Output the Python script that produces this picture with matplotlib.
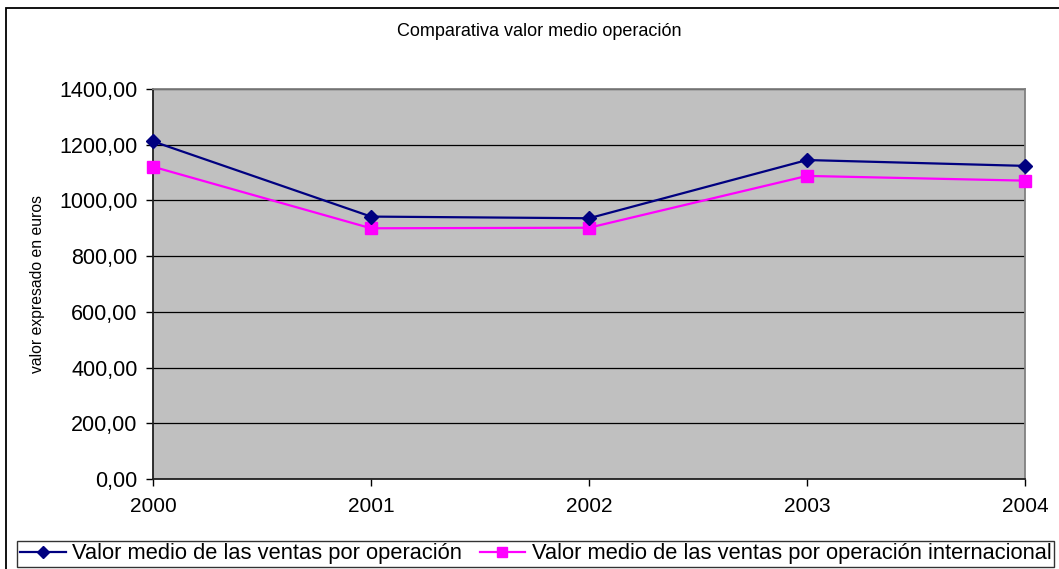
import matplotlib
matplotlib.use("Agg")
import matplotlib.pyplot as plt
from matplotlib.patches import Rectangle
from matplotlib.ticker import FuncFormatter

plt.rcParams['font.family'] = ['Liberation Sans', 'DejaVu Sans']

years = ["2000", "2001", "2002", "2003", "2004"]
ventas = [1212, 942, 936, 1145, 1124]
ventas_internacional = [1121, 900, 902, 1088, 1071]
yticks = [0, 200, 400, 600, 800, 1000, 1200, 1400]

W, H = 1059, 569
fig = plt.figure(figsize=(W / 100, H / 100), dpi=100)
fig.patch.set_facecolor("white")

# outer chart frame (left and top edges visible)
fig.add_artist(Rectangle((6 / W, -0.1), 1.2, 1.1 - 8 / H, transform=fig.transFigure,
                         fill=False, edgecolor="black", linewidth=1.3))

ax = fig.add_axes([153 / W, (H - 479) / H, (1025 - 153) / W, (479 - 89) / H])
ax.set_facecolor("#C0C0C0")

x = list(range(len(years)))
l1, = ax.plot(x, ventas, color="#000080", linewidth=1.6, marker="D", markersize=7.5,
              markerfacecolor="#000080", markeredgecolor="#000080",
              label="Valor medio de las ventas por operación", zorder=4, clip_on=False)
l2, = ax.plot(x, ventas_internacional, color="#FF00FF", linewidth=1.6, marker="s", markersize=8.5,
              markerfacecolor="#FF00FF", markeredgecolor="#FF00FF",
              label="Valor medio de las ventas por operación internacional", zorder=3, clip_on=False)

ax.set_xlim(0, len(years) - 1)
ax.set_ylim(0, 1400)
ax.set_xticks(x)
ax.set_xticklabels(years)
ax.set_yticks(yticks)
ax.yaxis.set_major_formatter(FuncFormatter(lambda v, p: f"{v:.2f}".replace(".", ",")))
ax.grid(axis="y", color="black", linewidth=0.9)
ax.set_axisbelow(True)
ax.tick_params(axis="both", direction="out", length=5, width=1, labelsize=15.5, colors="black")
ax.tick_params(axis="x", labelsize=15, pad=8)
ax.tick_params(axis="y", pad=6)

for side in ("left", "bottom"):
    ax.spines[side].set_color("#202020")
    ax.spines[side].set_linewidth(1.3)
for side in ("top", "right"):
    ax.spines[side].set_color("#808080")
    ax.spines[side].set_linewidth(1.3)

ax.set_ylabel("valor expresado en euros", fontsize=11.3, labelpad=0)
ax.yaxis.set_label_coords(-(153 - 45) / (1025 - 153), 0.5)

fig.text(539 / W, 1 - 31 / H, "Comparativa valor medio operación", ha="center", va="center", fontsize=13)

leg = fig.legend(handles=[l1, l2], loc="lower left", bbox_to_anchor=(17 / W, 2 / H), ncol=2,
                 fontsize=15.75, frameon=True, fancybox=False, borderpad=0.12, handlelength=2.1,
                 handletextpad=0.3, columnspacing=0.8, borderaxespad=0, markerscale=0.8)
leg.get_frame().set_edgecolor("black")
leg.get_frame().set_linewidth(1.0)

fig.savefig("out.png", dpi=100)
